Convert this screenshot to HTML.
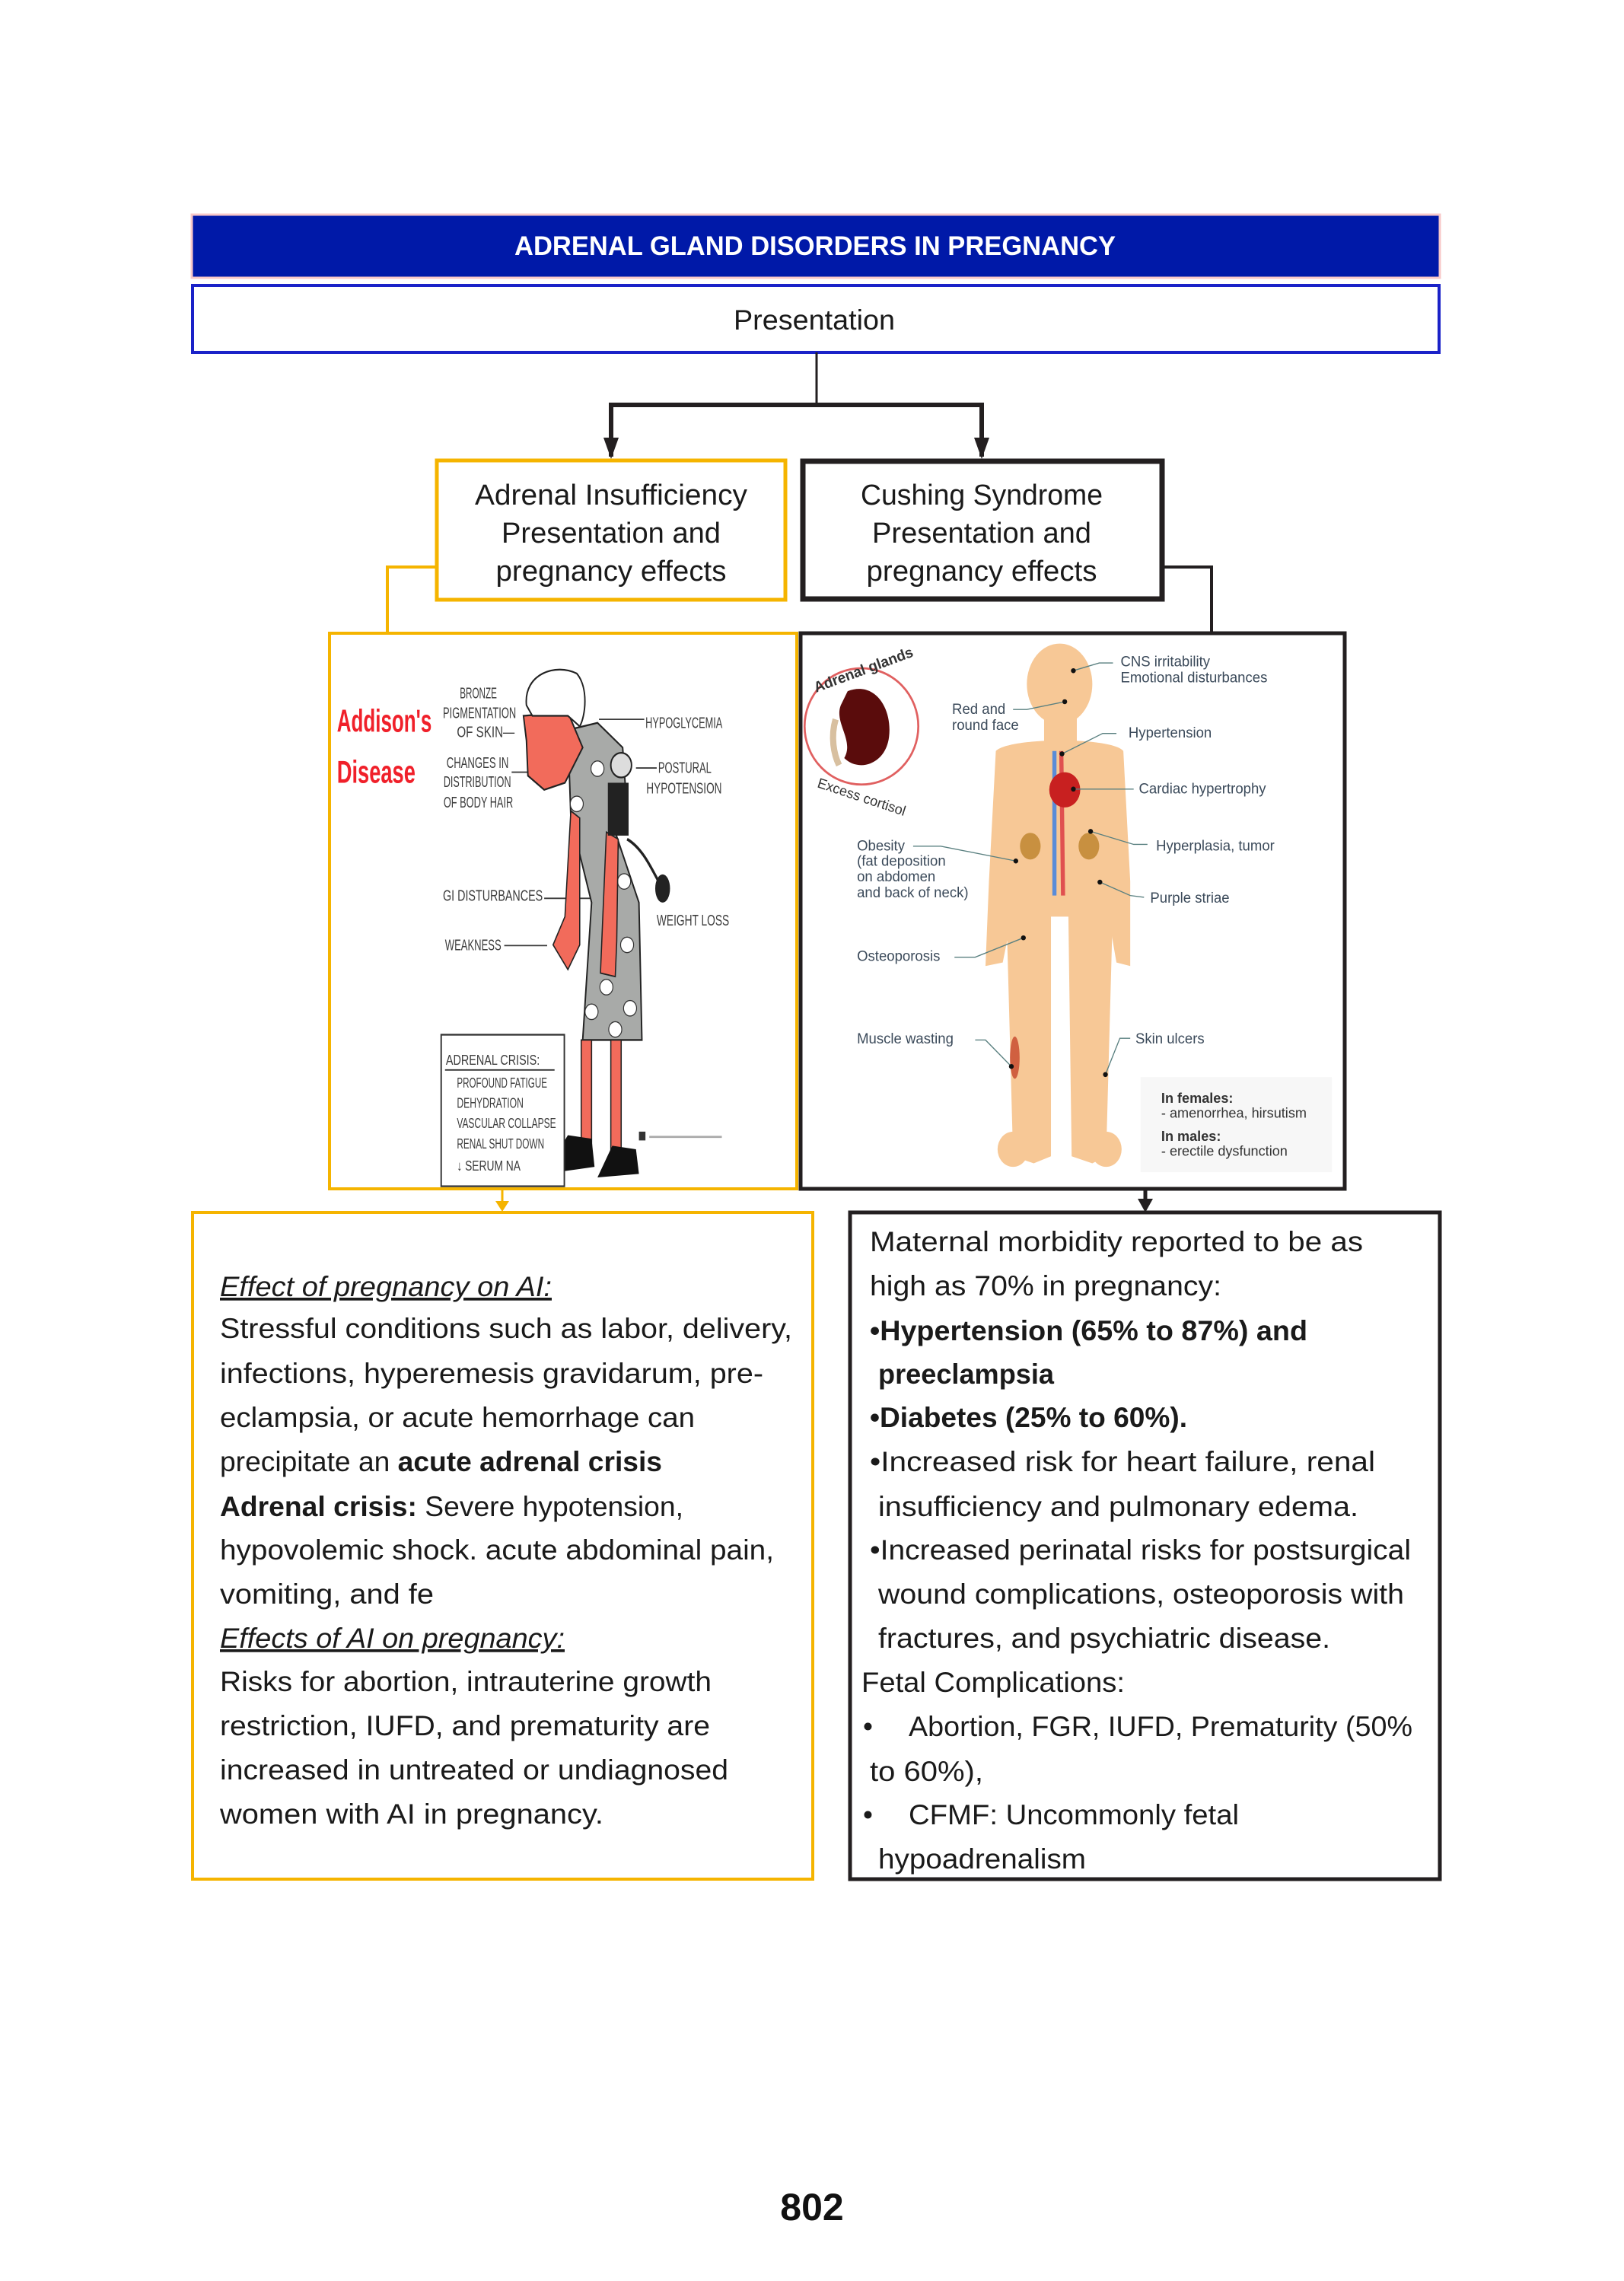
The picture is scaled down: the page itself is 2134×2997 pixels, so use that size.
<!DOCTYPE html>
<html><head><meta charset="utf-8"><style>
html,body{margin:0;padding:0;background:#fff;}
svg{display:block;}
text{font-family:"Liberation Sans",sans-serif;}
</style></head><body>
<svg width="2134" height="2997" viewBox="0 0 2134 2997" xmlns="http://www.w3.org/2000/svg">
<rect width="2134" height="2997" fill="#fff"/>
<!-- title -->
<rect x="252" y="282" width="1640" height="83" fill="#0019a8" stroke="#f8c8c8" stroke-width="3"/>
<text x="1071" y="335" fill="#fff" font-size="35" font-weight="bold" text-anchor="middle" textLength="790" lengthAdjust="spacingAndGlyphs">ADRENAL GLAND DISORDERS IN PREGNANCY</text>
<!-- presentation -->
<rect x="253" y="375" width="1638" height="88" fill="#fff" stroke="#1a22c8" stroke-width="4"/>
<text x="1070" y="433" fill="#1a1a1a" font-size="37" text-anchor="middle" textLength="212" lengthAdjust="spacingAndGlyphs">Presentation</text>
<!-- connectors -->
<line x1="1073" y1="463" x2="1073" y2="532" stroke="#231f20" stroke-width="3"/>
<polyline points="803,600 803,532 1290,532 1290,600" fill="none" stroke="#231f20" stroke-width="6"/>
<path d="M793,575 L813,575 L803,603 z" fill="#231f20"/>
<path d="M1280,575 L1300,575 L1290,603 z" fill="#231f20"/>
<!-- two boxes -->
<rect x="574" y="605" width="458" height="183" fill="#fff" stroke="#f5b400" stroke-width="5"/>
<rect x="1055" y="606" width="472" height="181" fill="#fff" stroke="#231f20" stroke-width="7"/>
<g font-size="38" fill="#1a1a1a" text-anchor="middle">
<text x="803" y="663" textLength="358" lengthAdjust="spacingAndGlyphs">Adrenal Insufficiency</text>
<text x="803" y="713" textLength="288" lengthAdjust="spacingAndGlyphs">Presentation and</text>
<text x="803" y="763" textLength="303" lengthAdjust="spacingAndGlyphs">pregnancy effects</text>
<text x="1290" y="663" textLength="318" lengthAdjust="spacingAndGlyphs">Cushing Syndrome</text>
<text x="1290" y="713" textLength="288" lengthAdjust="spacingAndGlyphs">Presentation and</text>
<text x="1290" y="763" textLength="303" lengthAdjust="spacingAndGlyphs">pregnancy effects</text>
</g>
<polyline points="574,745 509,745 509,832" fill="none" stroke="#f5b400" stroke-width="4"/>
<polyline points="1529,745 1592,745 1592,832" fill="none" stroke="#231f20" stroke-width="4"/>
<!-- image frames -->
<rect x="433" y="832" width="614" height="730" fill="#fff" stroke="#f5b400" stroke-width="4"/>

<!-- LEFT IMAGE -->
<svg x="435" y="834" width="610" height="726" viewBox="0 0 1568 1568" preserveAspectRatio="none">
<text x="20" y="275" font-size="90" font-weight="bold" fill="#f0202a" textLength="320" lengthAdjust="spacingAndGlyphs">Addison's</text>
<text x="20" y="420" font-size="90" font-weight="bold" fill="#f0202a" textLength="265" lengthAdjust="spacingAndGlyphs">Disease</text>
<g font-size="44" fill="#3c3c3c" lengthAdjust="spacingAndGlyphs">
<text x="435" y="180" textLength="125" lengthAdjust="spacingAndGlyphs">BRONZE</text>
<text x="378" y="236" textLength="247" lengthAdjust="spacingAndGlyphs">PIGMENTATION</text>
<text x="425" y="290" textLength="195" lengthAdjust="spacingAndGlyphs">OF SKIN—</text>
<text x="390" y="378" textLength="210" lengthAdjust="spacingAndGlyphs">CHANGES IN</text>
<text x="380" y="432" textLength="228" lengthAdjust="spacingAndGlyphs">DISTRIBUTION</text>
<text x="380" y="490" textLength="235" lengthAdjust="spacingAndGlyphs">OF BODY HAIR</text>
<text x="1062" y="265" textLength="260" lengthAdjust="spacingAndGlyphs">HYPOGLYCEMIA</text>
<text x="1105" y="392" textLength="180" lengthAdjust="spacingAndGlyphs">POSTURAL</text>
<text x="1065" y="450" textLength="255" lengthAdjust="spacingAndGlyphs">HYPOTENSION</text>
<text x="378" y="755" textLength="337" lengthAdjust="spacingAndGlyphs">GI  DISTURBANCES</text>
<text x="385" y="895" textLength="190" lengthAdjust="spacingAndGlyphs">WEAKNESS</text>
<text x="1100" y="825" textLength="245" lengthAdjust="spacingAndGlyphs">WEIGHT  LOSS</text>
</g>
<g stroke="#3c3c3c" stroke-width="4" fill="none">
<line x1="610" y1="390" x2="665" y2="390"/>
<line x1="905" y1="240" x2="1058" y2="240"/>
<line x1="1030" y1="378" x2="1100" y2="378"/>
<line x1="720" y1="748" x2="915" y2="748"/>
<line x1="585" y1="882" x2="730" y2="882"/>
</g>
<!-- dress -->
<path d="M800,270 L900,250 L985,320 L1000,500 L960,560 L1040,760 L1050,1150 L850,1150 L880,760 L810,520 Z" fill="#a8aaa8" stroke="#222" stroke-width="5"/>
<g fill="#fff" stroke="#333" stroke-width="3">
<circle cx="900" cy="380" r="22"/><circle cx="950" cy="600" r="22"/><circle cx="990" cy="700" r="22"/>
<circle cx="1000" cy="880" r="22"/><circle cx="930" cy="1000" r="22"/><circle cx="1010" cy="1060" r="22"/>
<circle cx="880" cy="1070" r="22"/><circle cx="830" cy="480" r="22"/><circle cx="960" cy="1120" r="22"/>
</g>
<!-- arms -->
<path d="M810,500 L790,800 L750,880 L800,950 L840,880 L840,520 Z" fill="#f26b5b" stroke="#222" stroke-width="4"/>
<path d="M930,560 L915,860 L910,960 L960,970 L965,870 L970,580 Z" fill="#f26b5b" stroke="#222" stroke-width="4"/>
<!-- head -->
<path d="M650,230 L800,220 L850,320 L790,420 L720,440 L665,400 L660,300 Z" fill="#f26b5b" stroke="#222" stroke-width="5"/>
<path d="M660,200 C650,110 760,80 830,110 C870,150 860,230 840,260 L800,230 L680,230 Z" fill="#fff" stroke="#222" stroke-width="5"/>
<circle cx="980" cy="370" r="35" fill="#ddd" stroke="#222" stroke-width="5"/>
<rect x="935" y="420" width="70" height="150" fill="#222"/>
<path d="M1000,580 C1060,610 1090,680 1120,720" stroke="#222" stroke-width="8" fill="none"/>
<ellipse cx="1120" cy="720" rx="25" ry="40" fill="#222"/>
<!-- legs -->
<rect x="845" y="1150" width="35" height="320" fill="#f26b5b" stroke="#222" stroke-width="4"/>
<rect x="945" y="1150" width="35" height="330" fill="#f26b5b" stroke="#222" stroke-width="4"/>
<path d="M800,1420 L880,1430 L890,1510 L720,1530 Z" fill="#111"/>
<path d="M950,1450 L1030,1460 L1040,1530 L900,1540 Z" fill="#111"/>
<!-- crisis box -->
<rect x="372" y="1135" width="416" height="430" fill="#fff" stroke="#333" stroke-width="5"/>
<line x1="385" y1="1235" x2="755" y2="1235" stroke="#333" stroke-width="4"/>
<g font-size="40" fill="#3c3c3c">
<text x="388" y="1220" textLength="317" lengthAdjust="spacingAndGlyphs">ADRENAL  CRISIS:</text>
<text x="425" y="1285" textLength="305" lengthAdjust="spacingAndGlyphs">PROFOUND  FATIGUE</text>
<text x="425" y="1342" textLength="225" lengthAdjust="spacingAndGlyphs">DEHYDRATION</text>
<text x="425" y="1400" textLength="335" lengthAdjust="spacingAndGlyphs">VASCULAR  COLLAPSE</text>
<text x="425" y="1458" textLength="295" lengthAdjust="spacingAndGlyphs">RENAL  SHUT  DOWN</text>
<text x="425" y="1520" textLength="215" lengthAdjust="spacingAndGlyphs">↓ SERUM  NA</text>
</g>
<rect x="1040" y="1410" width="22" height="25" fill="#333"/>
<line x1="1075" y1="1425" x2="1320" y2="1425" stroke="#aaa" stroke-width="6"/>
</svg>

<rect x="1052" y="832" width="715" height="730" fill="none" stroke="#231f20" stroke-width="5"/>
<!-- RIGHT IMAGE -->
<svg x="1055" y="834" width="710" height="726" viewBox="0 0 1568 1568" preserveAspectRatio="none">
<circle cx="170" cy="260" r="165" fill="#fff" stroke="#e06060" stroke-width="6"/>
<path d="M130,160 C210,130 260,210 250,290 C240,370 160,390 120,350 C150,300 90,250 110,200 Z" fill="#5a0c0c"/>
<path d="M95,240 C80,290 90,340 105,370" stroke="#d8c0a0" stroke-width="18" fill="none"/>
<text x="20" y="118" font-size="42" font-weight="bold" fill="#333" transform="rotate(-20 160 90)">Adrenal glands</text>
<text x="40" y="470" font-size="40" fill="#333" transform="rotate(18 160 450)">Excess cortisol</text>
<g fill="#f7c896">
<ellipse cx="745" cy="140" rx="95" ry="115"/>
<rect x="700" y="220" width="95" height="90"/>
<path d="M560,330 C600,290 900,290 930,330 L950,700 L950,940 L910,930 L880,760 L860,800 L760,800 L700,800 L615,760 L580,930 L530,940 L540,700 Z"/>
<path d="M590,760 L720,760 L720,1480 L670,1500 L610,1480 Z"/>
<path d="M770,760 L900,760 L880,1480 L840,1500 L780,1480 Z"/>
<ellipse cx="610" cy="1460" rx="45" ry="50"/><ellipse cx="880" cy="1460" rx="45" ry="50"/>
</g>
<path d="M730,330 L730,740" stroke="#5a8cd8" stroke-width="12"/>
<path d="M750,330 L755,740" stroke="#e05050" stroke-width="12"/>
<ellipse cx="760" cy="440" rx="45" ry="50" fill="#c82020"/>
<ellipse cx="660" cy="600" rx="30" ry="38" fill="#c89040"/>
<ellipse cx="830" cy="600" rx="30" ry="38" fill="#c89040"/>
<ellipse cx="615" cy="1200" rx="14" ry="60" fill="#d06040"/>
<g stroke="#5a8080" stroke-width="3" fill="none">
<polyline points="785,102 860,80 900,80"/>
<polyline points="760,190 650,212 610,212"/>
<polyline points="752,338 870,280 910,280"/>
<polyline points="785,438 960,438"/>
<polyline points="835,558 960,595 1000,595"/>
<polyline points="618,642 400,600 320,600"/>
<polyline points="862,702 950,740 990,745"/>
<polyline points="640,860 500,915 440,915"/>
<polyline points="605,1225 530,1150 500,1150"/>
<polyline points="878,1248 920,1145 950,1145"/>
</g>
<g fill="#111"><circle cx="785" cy="102" r="7"/><circle cx="760" cy="190" r="7"/><circle cx="752" cy="338" r="7"/><circle cx="785" cy="438" r="7"/><circle cx="835" cy="558" r="7"/><circle cx="618" cy="642" r="7"/><circle cx="862" cy="702" r="7"/><circle cx="640" cy="860" r="7"/><circle cx="605" cy="1225" r="7"/><circle cx="878" cy="1248" r="7"/></g>
<g font-size="41" fill="#3b4a5a">
<text x="922" y="90">CNS irritability</text>
<text x="922" y="135">Emotional disturbances</text>
<text x="433" y="225">Red and</text>
<text x="433" y="270">round face</text>
<text x="945" y="292">Hypertension</text>
<text x="975" y="450">Cardiac hypertrophy</text>
<text x="1025" y="612">Hyperplasia, tumor</text>
<text x="157" y="612">Obesity</text>
<text x="157" y="655">(fat deposition</text>
<text x="157" y="700">on abdomen</text>
<text x="157" y="745">and back of neck)</text>
<text x="1008" y="760">Purple striae</text>
<text x="157" y="925">Osteoporosis</text>
<text x="157" y="1160">Muscle wasting</text>
<text x="965" y="1160">Skin ulcers</text>
</g>
<rect x="980" y="1255" width="555" height="270" fill="#f7f7f7"/>
<g font-size="40" fill="#333">
<text x="1040" y="1328" font-weight="bold">In females:</text>
<text x="1040" y="1370">- amenorrhea, hirsutism</text>
<text x="1040" y="1436" font-weight="bold">In males:</text>
<text x="1040" y="1478">- erectile dysfunction</text>
</g>
</svg>

<!-- bottom arrows -->
<line x1="660" y1="1562" x2="660" y2="1580" stroke="#f5b400" stroke-width="3"/>
<path d="M651,1578 L669,1578 L660,1592 z" fill="#f5b400"/>
<line x1="1505" y1="1562" x2="1505" y2="1578" stroke="#231f20" stroke-width="5"/>
<path d="M1495,1575 L1515,1575 L1505,1593 z" fill="#231f20"/>
<!-- bottom boxes -->
<rect x="253" y="1593" width="815" height="876" fill="#fff" stroke="#f5b400" stroke-width="4"/>
<rect x="1117" y="1593" width="775" height="876" fill="#fff" stroke="#231f20" stroke-width="5"/>
<g font-size="37" fill="#1a1a1a">
<text x="289" y="1703" font-style="italic" text-decoration="underline" textLength="436" lengthAdjust="spacingAndGlyphs">Effect of pregnancy on AI:</text>
<text x="289" y="1758" textLength="752" lengthAdjust="spacingAndGlyphs">Stressful conditions  such  as labor, delivery,</text>
<text x="289" y="1817" textLength="714" lengthAdjust="spacingAndGlyphs">infections, hyperemesis gravidarum,  pre-</text>
<text x="289" y="1875" textLength="624" lengthAdjust="spacingAndGlyphs">eclampsia, or acute hemorrhage can</text>
<text x="289" y="1933" textLength="581" lengthAdjust="spacingAndGlyphs">precipitate an <tspan font-weight="bold">acute adrenal crisis</tspan></text>
<text x="289" y="1992" textLength="609" lengthAdjust="spacingAndGlyphs"><tspan font-weight="bold">Adrenal crisis:</tspan> Severe hypotension,</text>
<text x="289" y="2049" textLength="728" lengthAdjust="spacingAndGlyphs">hypovolemic shock. acute abdominal pain,</text>
<text x="289" y="2107" textLength="281" lengthAdjust="spacingAndGlyphs">vomiting, and fe</text>
<text x="289" y="2165" font-style="italic" text-decoration="underline" textLength="453" lengthAdjust="spacingAndGlyphs">Effects of AI on pregnancy:</text>
<text x="289" y="2222" textLength="646" lengthAdjust="spacingAndGlyphs">Risks for abortion, intrauterine growth</text>
<text x="289" y="2280" textLength="644" lengthAdjust="spacingAndGlyphs">restriction, IUFD, and prematurity are</text>
<text x="289" y="2338" textLength="668" lengthAdjust="spacingAndGlyphs">increased in untreated or undiagnosed</text>
<text x="289" y="2396" textLength="504" lengthAdjust="spacingAndGlyphs">women with AI in pregnancy.</text>

<text x="1143" y="1644" textLength="648" lengthAdjust="spacingAndGlyphs">Maternal morbidity reported to  be as</text>
<text x="1143" y="1702" textLength="462" lengthAdjust="spacingAndGlyphs">high  as 70%  in pregnancy:</text>
<text x="1143" y="1761" font-weight="bold" textLength="575" lengthAdjust="spacingAndGlyphs">•Hypertension (65%  to 87%) and</text>
<text x="1154" y="1818" font-weight="bold" textLength="231" lengthAdjust="spacingAndGlyphs">preeclampsia</text>
<text x="1143" y="1875" font-weight="bold" textLength="417" lengthAdjust="spacingAndGlyphs">•Diabetes (25% to 60%).</text>
<text x="1143" y="1933" textLength="664" lengthAdjust="spacingAndGlyphs">•Increased risk for  heart  failure,  renal</text>
<text x="1154" y="1992" textLength="631" lengthAdjust="spacingAndGlyphs">insufficiency and  pulmonary edema.</text>
<text x="1143" y="2049" textLength="711" lengthAdjust="spacingAndGlyphs">•Increased perinatal  risks for postsurgical</text>
<text x="1154" y="2107" textLength="691" lengthAdjust="spacingAndGlyphs">wound complications, osteoporosis with</text>
<text x="1154" y="2165" textLength="594" lengthAdjust="spacingAndGlyphs">fractures,  and psychiatric  disease.</text>
<text x="1132" y="2223" textLength="346" lengthAdjust="spacingAndGlyphs">Fetal Complications:</text>
<text x="1134" y="2281">•</text>
<text x="1194" y="2281" textLength="662" lengthAdjust="spacingAndGlyphs">Abortion, FGR, IUFD, Prematurity (50%</text>
<text x="1143" y="2340" textLength="149" lengthAdjust="spacingAndGlyphs">to  60%),</text>
<text x="1134" y="2397">•</text>
<text x="1194" y="2397" textLength="434" lengthAdjust="spacingAndGlyphs">CFMF: Uncommonly fetal</text>
<text x="1154" y="2455" textLength="273" lengthAdjust="spacingAndGlyphs">hypoadrenalism</text>
</g>
<text x="1067" y="2917" font-size="50" font-weight="bold" fill="#111" text-anchor="middle">802</text>
</svg>
</body></html>
